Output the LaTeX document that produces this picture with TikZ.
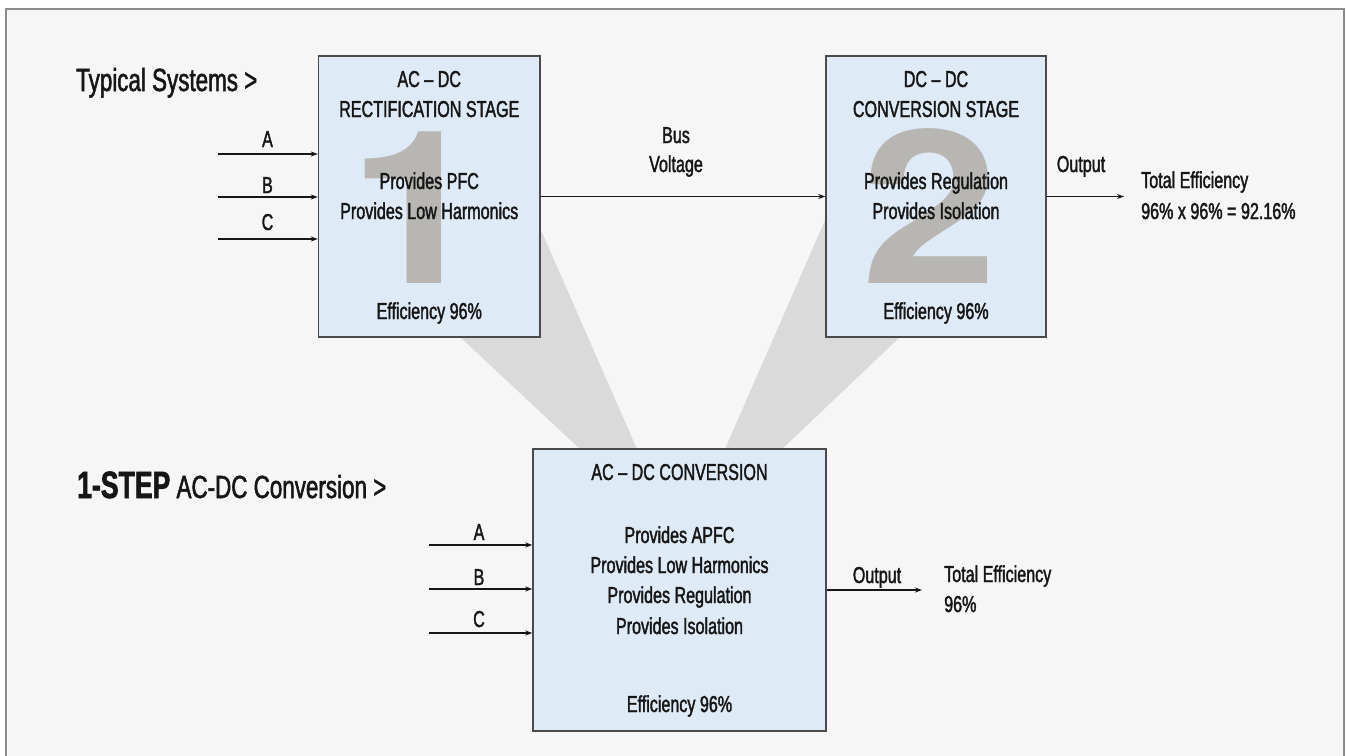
\documentclass[tikz,border=0pt]{standalone}
\usepackage{fontspec}
\setmainfont{Liberation Sans}[FakeStretch=0.7, FakeBold=1.6]
\newfontfamily\digitfont{TeX Gyre Heros}[FakeStretch=1.15]
\usetikzlibrary{arrows.meta}

\definecolor{pagebg}{HTML}{F6F6F6}
\definecolor{frameline}{HTML}{8C8C8C}
\definecolor{boxfill}{HTML}{DEEAF6}
\definecolor{boxline}{HTML}{4A4A4A}
\definecolor{wedge}{HTML}{DADADA}
\definecolor{digitgray}{HTML}{B8B6B3}
\definecolor{ink}{HTML}{161616}

\tikzset{
  stagebox/.style={draw=boxline, fill=boxfill, line width=1.4pt, inner sep=0pt},
  txt/.style={font=\fontsize{23}{28}\selectfont, text=ink, inner sep=0pt, anchor=base},
  ltxt/.style={txt, anchor=base west},
  headline/.style={font=\fontsize{32}{36}\selectfont, text=ink, inner sep=0pt, anchor=base west},
  bigdigit/.style={font=\digitfont\bfseries\fontsize{214}{214}\selectfont, text=digitgray, inner sep=0pt, anchor=base},
  flow/.style={draw=ink, line width=1.2pt, -{Stealth[length=7pt,width=5pt]}}
}

\begin{document}
\begin{tikzpicture}[x=1pt,y=-1pt]
  \useasboundingbox (0,0) rectangle (1346,755);
  \clip (0,0) rectangle (1346,755);
  \fill[white] (0,0) rectangle (1346,755);
  % framed panel
  \draw[frameline, fill=pagebg, line width=2pt] (6,9) rectangle (1344,770);

  % grey beams joining the two stages to the single stage
  \fill[wedge] (460,337) -- (580,449) -- (637,449) -- (540,228) -- (460,228) -- cycle;
  \fill[wedge] (826,218) -- (725,449) -- (782,449) -- (900,337) -- (826,337) -- cycle;

  % stage boxes
  \node[stagebox, minimum width=221.5pt, minimum height=281pt] (b1) at (429.25,196.5) {};
  \node[stagebox, minimum width=220pt, minimum height=281pt] (b2) at (936,196.5) {};
  \node[stagebox, minimum width=293pt, minimum height=282pt] (b3) at (679.5,590) {};

  % large stage numbers
  \node[bigdigit] (n1) at (417,283) {1};
  \node[bigdigit] (n2) at (930,283) {2};

  % headings
  \node[headline] (h1) at (76,91) {Typical Systems >};
  \node[headline] (h2) at (77,498) {{\bfseries\fontsize{38}{40}\selectfont 1-STEP} {\fontsize{32}{36}\selectfont AC-DC Conversion >}};

  % stage 1 text
  \node[txt] (t1a) at (429.25,87)  {AC – DC};
  \node[txt] (t1b) at (429.25,117) {RECTIFICATION STAGE};
  \node[txt] (t1c) at (429.25,189) {Provides PFC};
  \node[txt] (t1d) at (429.25,219) {Provides Low Harmonics};
  \node[txt] (t1e) at (429.25,319) {Efficiency 96\%};

  % stage 2 text
  \node[txt] (t2a) at (936,87)  {DC – DC};
  \node[txt] (t2b) at (936,117) {CONVERSION STAGE};
  \node[txt] (t2c) at (936,189) {Provides Regulation};
  \node[txt] (t2d) at (936,219) {Provides Isolation};
  \node[txt] (t2e) at (936,319) {Efficiency 96\%};

  % single stage text
  \node[txt] (t3a) at (679.5,480) {AC – DC CONVERSION};
  \node[txt] (t3b) at (679.5,543) {Provides APFC};
  \node[txt] (t3c) at (679.5,573) {Provides Low Harmonics};
  \node[txt] (t3d) at (679.5,603) {Provides Regulation};
  \node[txt] (t3e) at (679.5,634) {Provides Isolation};
  \node[txt] (t3f) at (679.5,712) {Efficiency 96\%};

  % three-phase inputs, two-stage system
  \coordinate (i1a) at (218,154);
  \coordinate (i1b) at (218,197);
  \coordinate (i1c) at (218,239);
  \draw[flow] (i1a) -- (i1a -| b1.west);
  \draw[flow] (i1b) -- (i1b -| b1.west);
  \draw[flow] (i1c) -- (i1c -| b1.west);
  \node[txt] (l1a) at (267.5,147) {A};
  \node[txt] (l1b) at (267.5,193) {B};
  \node[txt] (l1c) at (267.5,230) {C};

  % bus link and output, two-stage system
  \draw[flow] (b1.east) -- (b2.west);
  \node[txt] (bus1) at (676,143) {Bus};
  \node[txt] (bus2) at (676,172) {Voltage};
  \coordinate (o1) at (1124,196.5);
  \draw[flow] (b2.east) -- (o1);
  \node[txt] (out1) at (1081,172) {Output};
  \node[ltxt] (eff1a) at (1141,188) {Total Efficiency};
  \node[ltxt] (eff1b) at (1141,219) {96\% x 96\% = 92.16\%};

  % three-phase inputs, single stage
  \coordinate (i3a) at (429,545);
  \coordinate (i3b) at (429,589);
  \coordinate (i3c) at (429,633);
  \draw[flow] (i3a) -- (i3a -| b3.west);
  \draw[flow] (i3b) -- (i3b -| b3.west);
  \draw[flow] (i3c) -- (i3c -| b3.west);
  \node[txt] (l3a) at (479,540) {A};
  \node[txt] (l3b) at (479,585) {B};
  \node[txt] (l3c) at (479,627) {C};

  % output, single stage
  \coordinate (o3) at (922,590);
  \draw[flow] (b3.east) -- (o3);
  \node[txt] (out3) at (877,583) {Output};
  \node[ltxt] (eff3a) at (944,582) {Total Efficiency};
  \node[ltxt] (eff3b) at (944,612) {96\%};
\end{tikzpicture}
\end{document}
